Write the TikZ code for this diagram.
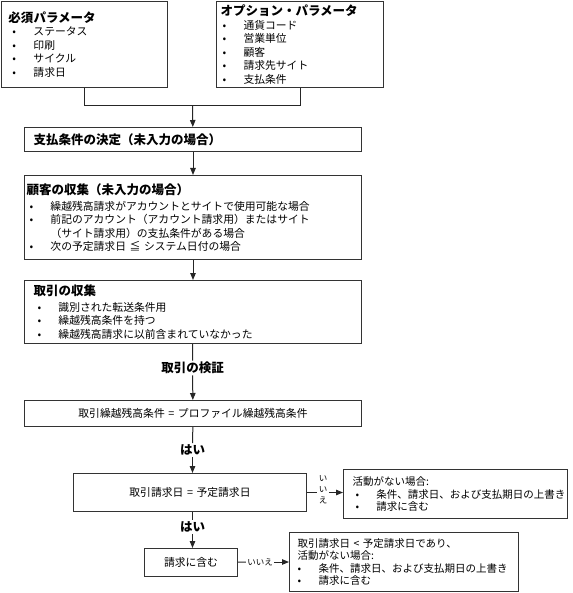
\documentclass[tikz,border=0pt]{standalone}
\usepackage{fontspec}
\setmainfont{Noto Sans CJK JP}
\usetikzlibrary{arrows.meta}

\newcommand{\body}{\fontsize{10.8}{13.5}\selectfont}
\newcommand{\sidebody}{\fontsize{10.5}{12.5}\selectfont}
\newcommand{\head}{\fontsize{12.5}{15}\selectfont\bfseries}
\newcommand{\notext}{\fontsize{8.5}{11}\selectfont}
\newcommand{\itm}[2]{\hspace*{#1}\makebox[21pt][l]{\textbullet}#2}

\tikzset{
  box/.style={draw=black!80, line width=1pt, anchor=north west, inner ysep=0pt, align=left, font=\body},
  midbox/.style={box, align=center, inner xsep=0pt},
  sidebox/.style={box, font=\sidebody},
  lbl/.style={inner sep=1pt, font=\head},
  nolbl/.style={inner sep=1pt, fill=white, align=center, font=\notext}
}

\begin{document}
\begin{tikzpicture}[x=1pt, y=-1pt, line width=1pt, >={Triangle[length=7pt,width=5.5pt]}]
  \useasboundingbox (0,0) rectangle (572,593);
  % input parameters
  \node[box, inner xsep=7pt, text width=152pt, minimum height=86pt] (req) at (1,1)
    {{\head 必須パラメータ}\\
     \itm{4pt}{ステータス}\\
     \itm{4pt}{印刷}\\
     \itm{4pt}{サイクル}\\
     \itm{4pt}{請求日}};
  \node[box, inner xsep=4pt, text width=159pt, minimum height=86pt] (opt) at (216,1)
    {{\head オプション・パラメータ}\\
     \itm{2pt}{通貨コード}\\
     \itm{2pt}{営業単位}\\
     \itm{2pt}{顧客}\\
     \itm{2pt}{請求先サイト}\\
     \itm{2pt}{支払条件}};
  \coordinate (join) at (192.5,106);
  % main steps
  \node[box, inner xsep=9pt, text width=319pt, minimum height=24pt] (pay) at (24,127)
    {{\head 支払条件の決定（未入力の場合）}};
  \node[box, inner xsep=2pt, text width=333pt, minimum height=84pt] (cust) at (24,175)
    {{\head 顧客の収集（未入力の場合）}\\[2.5pt]
     \itm{3pt}{繰越残高請求がアカウントとサイトで使用可能な場合}\\
     \itm{3pt}{前記のアカウント（アカウント請求用）またはサイト}\\
     \hspace*{24pt}（サイト請求用）の支払条件がある場合\\
     \itm{3pt}{次の予定請求日 ≦ システム日付の場合}};
  \node[box, inner xsep=9pt, text width=319pt, minimum height=63pt] (txn) at (24,280)
    {{\head 取引の収集}\\[2.5pt]
     \itm{4pt}{識別された転送条件用}\\
     \itm{4pt}{繰越残高条件を持つ}\\
     \itm{4pt}{繰越残高請求に以前含まれていなかった}};
  \node[lbl] (verify) at (192.5,368) {取引の検証};
  \node[midbox, text width=337pt, minimum height=26pt] (chk) at (24,400)
    {取引繰越残高条件 = プロファイル繰越残高条件};
  \node[lbl] (yes1) at (192.5,450) {はい};
  \node[midbox, text width=233pt, minimum height=38pt] (date) at (73,473)
    {取引請求日 = 予定請求日};
  \node[sidebox, inner xsep=9pt, text width=206pt, minimum height=49pt] (nomatch) at (343,469)
    {活動がない場合:\\
     \itm{3pt}{条件、請求日、および支払期日の上書き}\\
     \itm{3pt}{請求に含む}};
  \node[lbl] (yes2) at (192.5,527) {はい};
  \node[midbox, text width=93pt, minimum height=28pt] (incl) at (144,548)
    {請求に含む};
  \node[sidebox, inner xsep=8pt, text width=213pt, minimum height=59pt] (early) at (289,532)
    {取引請求日 < 予定請求日であり、\\
     活動がない場合:\\
     \itm{0pt}{条件、請求日、および支払期日の上書き}\\
     \itm{0pt}{請求に含む}};
  \node[nolbl] (no1) at (323,490) {い\\い\\え};
  \node[nolbl] (no2) at (260,562) {いいえ};
  \begin{scope}[draw=black!85]
    \draw (req.south) |- (join);
    \draw (opt.south) |- (join);
    \draw[->] (join) to (pay);
    \draw[->] (pay) to (cust);
    \draw[->] (cust) to (txn);
    \draw (txn) to (verify);
    \draw[->] (verify) to (chk);
    \draw (chk) to (yes1);
    \draw[->] (yes1) to (yes1 |- date.north);
    \draw (date.east) to (date.east -| no1.west);
    \draw[->] (date.east -| no1.east) to (date.east -| nomatch.west);
    \draw (yes2 |- date.south) to (yes2);
    \draw[->] (yes2) to (yes2 |- incl.north);
    \draw (incl) to (no2);
    \draw[->] (no2) to (no2 -| early.west);
  \end{scope}
\end{tikzpicture}
\end{document}
